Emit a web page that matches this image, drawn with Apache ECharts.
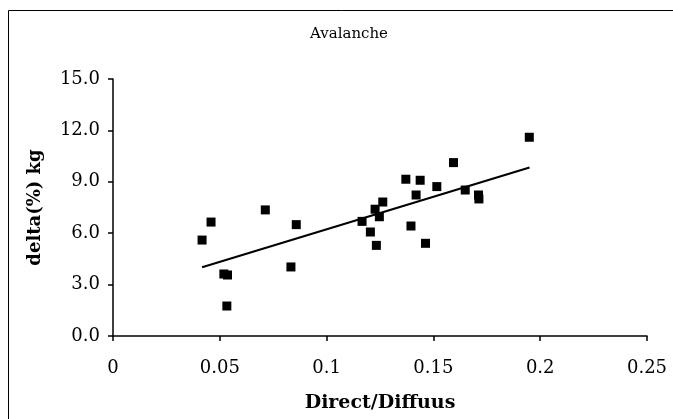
<!DOCTYPE html>
<html>
<head>
<meta charset="utf-8">
<script src="https://cdn.jsdelivr.net/npm/echarts@6/dist/echarts.min.js"></script>
<style>
  html, body { margin: 0; padding: 0; background: #fff; }
  #chart { width: 673px; height: 419px; }
</style>
</head>
<body>
<div id="chart"></div>
<script>
// Direct/diffuse ratio against weight change, Avalanche
const directDiffuse = [
  0.0417, 0.0459, 0.0519, 0.0536, 0.0533, 0.0713, 0.0833, 0.0858,
  0.1166, 0.1205, 0.1227, 0.1247, 0.1263, 0.1233, 0.1371, 0.1395,
  0.1419, 0.1438, 0.1463, 0.1516, 0.1594, 0.1649, 0.1711, 0.1713, 0.1949
];
const deltaKg = [
  5.60, 6.65, 3.62, 3.56, 1.75, 7.36, 4.03, 6.50,
  6.69, 6.07, 7.40, 6.96, 7.82, 5.29, 9.15, 6.42,
  8.23, 9.09, 5.41, 8.72, 10.12, 8.52, 8.23, 8.00, 11.60
];
// Linear trend line endpoints
const trendX = [0.0417, 0.195];
const trendY = [4.01, 9.83];

const xTickLabels = ['0', '0.05', '0.1', '0.15', '0.2', '0.25'];
const yTickLabels = ['0.0', '3.0', '6.0', '9.0', '12.0', '15.0'];

const points = directDiffuse.map((x, i) => [x, deltaKg[i]]);
const trend = trendX.map((x, i) => [x, trendY[i]]);

const serif = 'DejaVu Serif';
const axisLine = { show: true, onZero: false, lineStyle: { color: '#000', width: 1.5 } };
const axisTick = { show: true, inside: false, length: 5, lineStyle: { color: '#000', width: 1.5 } };

const chart = echarts.init(document.getElementById('chart'), null, { renderer: 'canvas' });
chart.setOption({
  animation: false,
  backgroundColor: '#fff',
  title: {
    text: 'Avalanche',
    left: 344,
    top: 22,
    textAlign: 'center',
    textStyle: { fontFamily: serif, fontSize: 15, fontWeight: 'normal', color: '#000' }
  },
  graphic: [{
    type: 'rect',
    shape: { x: 8.5, y: 10.5, width: 700, height: 500 },
    style: { fill: 'none', stroke: '#000', lineWidth: 1 },
    silent: true
  }],
  grid: { left: 113, right: 26, top: 79, bottom: 83, containLabel: false },
  xAxis: {
    type: 'value',
    min: 0, max: 0.25, interval: 0.05,
    name: 'Direct/Diffuus',
    nameLocation: 'middle',
    nameGap: 58,
    nameTextStyle: { fontFamily: serif, fontSize: 19, fontWeight: 'bold', color: '#000' },
    axisLine, axisTick,
    splitLine: { show: false },
    axisLabel: {
      margin: 23,
      fontFamily: serif, fontSize: 18, color: '#000',
      formatter: (v, i) => xTickLabels[i]
    }
  },
  yAxis: {
    type: 'value',
    min: 0, max: 15, interval: 3,
    name: 'delta(%) kg',
    nameLocation: 'middle',
    nameGap: 69,
    nameRotate: 90,
    nameTextStyle: { fontFamily: serif, fontSize: 18, fontWeight: 'bold', color: '#000' },
    axisLine, axisTick,
    splitLine: { show: false },
    axisLabel: {
      margin: 13,
      fontFamily: serif, fontSize: 18, color: '#000',
      formatter: (v, i) => yTickLabels[i]
    }
  },
  series: [
    {
      type: 'scatter',
      data: points,
      symbol: 'rect',
      symbolSize: 9,
      itemStyle: { color: '#000', opacity: 1 },
      z: 3
    },
    {
      type: 'line',
      data: trend,
      symbol: 'none',
      lineStyle: { color: '#000', width: 2 },
      z: 2
    }
  ]
});
</script>
</body>
</html>
